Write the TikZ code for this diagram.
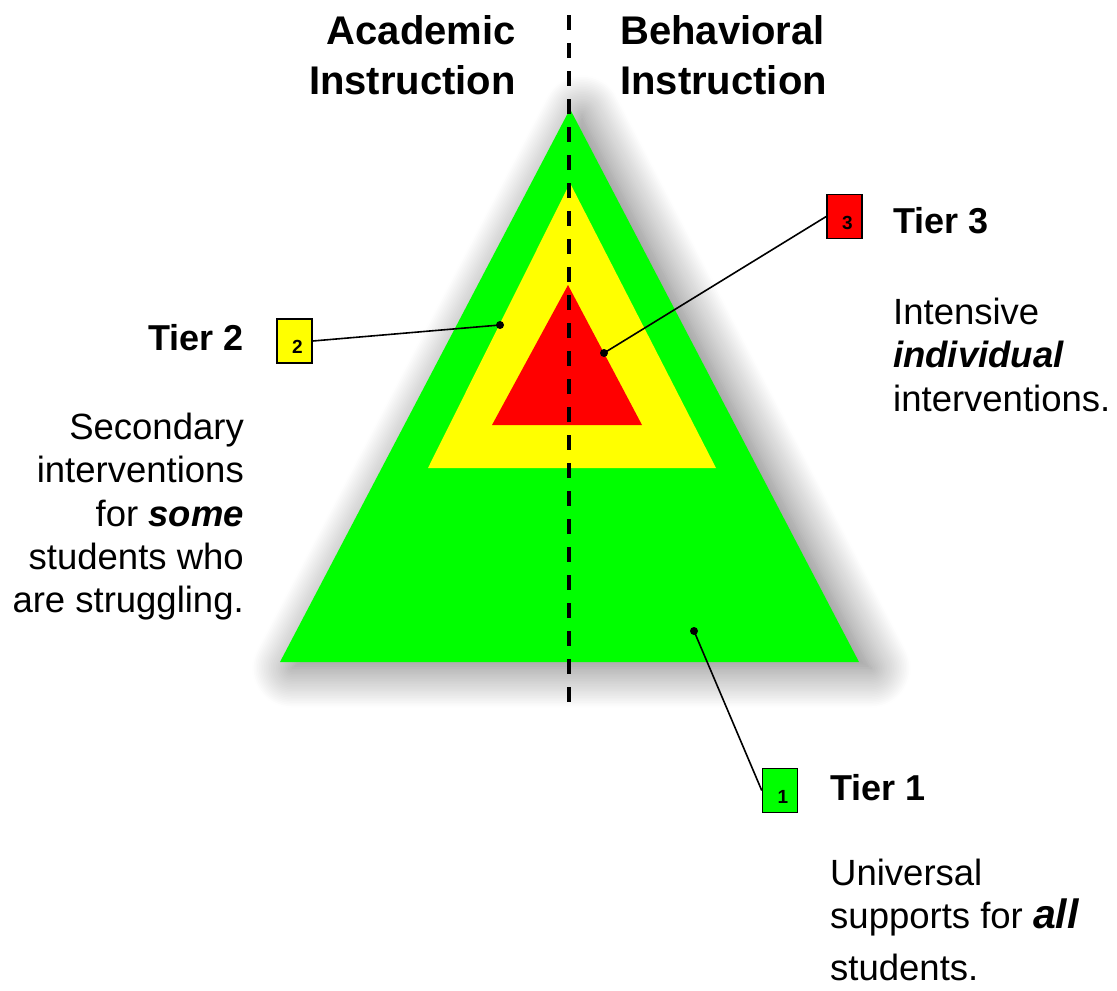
\documentclass[tikz,border=0pt]{standalone}
\usepackage{fontspec}
\setmainfont{Liberation Sans}
\usetikzlibrary{shadows.blur}
\definecolor{tiergreen}{RGB}{0,255,0}
\definecolor{tieryellow}{RGB}{255,255,0}
\definecolor{tierred}{RGB}{255,0,0}
\tikzset{
  tierbox/.style={draw=black, line width=1.5pt, minimum width=35pt, minimum height=44pt, inner sep=0pt},
  numtag/.style={font=\fontsize{19}{19}\selectfont\bfseries, inner sep=0pt},
  colhead/.style={font=\fontsize{40}{50}\selectfont\bfseries, inner sep=0pt},
  tiername/.style={font=\fontsize{36}{40}\selectfont\bfseries, inner sep=0pt},
  tiertext/.style={font=\fontsize{36.5}{43.3}\selectfont, inner sep=0pt},
  pin/.style={circle, fill=black, inner sep=0pt, minimum size=8pt},
  leader/.style={line width=1.6pt}
}

\begin{document}
\begin{tikzpicture}[x=1pt,y=-1pt]
\useasboundingbox (0,0) rectangle (1117,991);
%pyramid
\fill[tiergreen, blur shadow={shadow xshift=12pt, shadow yshift=-6pt, shadow blur radius=40pt, shadow blur steps=24, shadow opacity=55}] (570,109) -- (859,662) -- (280,662) -- cycle;
\fill[tieryellow] (570,183) -- (716,468) -- (428,468) -- cycle;
\fill[tierred] (568,285) -- (642,425) -- (492,425) -- cycle;
\coordinate (divtop) at (569,15); \coordinate (divbot) at (569,703);
\draw[line width=3.5pt, dash pattern=on 15pt off 13pt] (divtop) -- (divbot);
%headings
\node[colhead, anchor=north east, align=right] (acad) at (516,15) {Academic\\Instruction};
\node[colhead, anchor=north west, align=left] (behav) at (620,15) {Behavioral\\Instruction};
%tier boxes with numbers
\node[tierbox, fill=tiergreen] (box1) at (780,790.5) {};
\node[tierbox, fill=tieryellow] (box2) at (294.5,341) {};
\node[tierbox, fill=tierred] (box3) at (844.5,216.5) {};
\foreach \b in {1,2,3} {
\node[numtag] (num\b) at ([xshift=3pt,yshift=-6pt]box\b.center) {\b};
}
\node[pin] (pin1) at (694,631) {};
\node[pin] (pin2) at (500,325) {};
\node[pin] (pin3) at (604,353) {};
\draw[leader] (pin1.center) -- (box1.west);
\draw[leader] (pin2.center) -- (box2.east);
\draw[leader] (pin3.center) -- (box3.west);
%labels
\node[tiername, anchor=base east] (tier2) at (244,350) {Tier 2};
\node[tiername, anchor=base west] (tier3) at (893,233) {Tier 3};
\node[tiername, anchor=base west] (tier1) at (830,800) {Tier 1};
\node[tiertext, anchor=north east, align=right] (text2) at (244,413) {Secondary\\interventions\\for \textbf{\itshape some}\\students who\\are struggling.};
\node[tiertext, anchor=north west, align=left] (text3) at (893,298) {Intensive\\\textbf{\itshape individual}\\interventions.};
\node[tiertext, anchor=north west, align=left] (text1) at (830,859) {Universal\\supports for {\fontsize{41}{43}\selectfont\bfseries\itshape all}\\[8pt]students.};
\end{tikzpicture}
\end{document}
